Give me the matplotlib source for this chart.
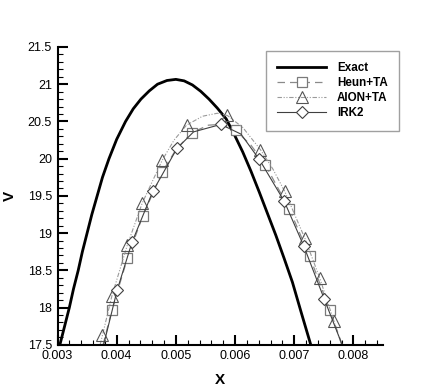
import matplotlib
matplotlib.use("Agg")
import matplotlib.pyplot as plt
from matplotlib.ticker import MultipleLocator, StrMethodFormatter

plt.rcParams['font.family'] = ['Liberation Sans', 'DejaVu Sans']

# Exact solution
exact_x = [0.00304, 0.00312, 0.00320, 0.00327, 0.00335, 0.00342, 0.00350, 0.00358,
           0.00367, 0.00376, 0.00387, 0.00400, 0.00415, 0.00428, 0.00441, 0.00455,
           0.00469, 0.00485, 0.00500, 0.00514, 0.00528, 0.00542, 0.00556, 0.00570,
           0.00585, 0.00599, 0.00613, 0.00627, 0.00641, 0.00655, 0.00669, 0.00683,
           0.00697, 0.00712, 0.00728]
exact_y = [17.50, 17.75, 18.00, 18.25, 18.50, 18.75, 19.00, 19.25,
           19.50, 19.75, 20.00, 20.26, 20.50, 20.67, 20.80, 20.91,
           21.00, 21.05, 21.065, 21.045, 20.99, 20.905, 20.80, 20.68,
           20.535, 20.32, 20.09, 19.83, 19.55, 19.26, 18.97, 18.66,
           18.34, 17.93, 17.50]

# Heun+TA
heun_x = [0.00377, 0.00392, 0.00418, 0.00444, 0.00477, 0.00500, 0.00527, 0.00555,
          0.00575, 0.00601, 0.00627, 0.00651, 0.00692, 0.00726, 0.00760, 0.00781]
heun_y = [17.50, 17.97, 18.66, 19.23, 19.82, 20.12, 20.35, 20.45,
          20.46, 20.38, 20.18, 19.92, 19.32, 18.69, 17.97, 17.50]
heun_marks = [1, 2, 3, 4, 6, 9, 11, 12, 13, 14]

# AION+TA
aion_x = [0.00372, 0.00376, 0.00392, 0.00418, 0.00443, 0.00477, 0.00497, 0.00518,
          0.00545, 0.00570, 0.00587, 0.00613, 0.00643, 0.00664, 0.00684, 0.00718,
          0.00743, 0.00767, 0.00780]
aion_y = [17.50, 17.63, 18.16, 18.84, 19.40, 19.98, 20.25, 20.45,
          20.57, 20.61, 20.58, 20.42, 20.12, 19.86, 19.56, 18.93,
          18.40, 17.82, 17.50]
aion_marks = [1, 2, 3, 4, 5, 7, 10, 12, 14, 15, 16, 17]

# IRK2
irk_x = [0.00378, 0.00401, 0.00426, 0.00461, 0.00502, 0.00530, 0.00576, 0.00610,
         0.00641, 0.00683, 0.00716, 0.00751, 0.00781]
irk_y = [17.50, 18.24, 18.88, 19.56, 20.14, 20.36, 20.46, 20.33,
         19.99, 19.43, 18.83, 18.11, 17.50]
irk_marks = [1, 2, 3, 4, 6, 8, 9, 10, 11]

fig = plt.figure(figsize=(4.36, 3.88), dpi=100)
ax = fig.add_axes([0.1319, 0.1113, 0.7465, 0.7676])

ax.plot(exact_x, exact_y, color='black', lw=2.0, label='Exact')
ax.plot(heun_x, heun_y, color='#8a8a8a', lw=0.9, ls=(0, (6, 4)),
        marker='s', markevery=heun_marks, ms=7.5, mfc='white', mec='#7a7a7a',
        mew=0.9, label='Heun+TA')
ax.plot(aion_x, aion_y, color='#9a9a9a', lw=0.8, ls=(0, (4, 1.5, 1, 1.5, 1, 1.5)),
        marker='^', markevery=aion_marks, ms=8, mfc='none', mec='#555555',
        mew=0.8, label='AION+TA')
ax.plot(irk_x, irk_y, color='#404040', lw=0.8, ls='-',
        marker='D', markevery=irk_marks, ms=6.5, mfc='white', mec='#404040',
        mew=0.8, label='IRK2')

ax.set_xlim(0.003, 0.0085)
ax.set_ylim(17.5, 21.5)
ax.xaxis.set_major_locator(MultipleLocator(0.001))
ax.xaxis.set_minor_locator(MultipleLocator(0.0002))
ax.yaxis.set_major_locator(MultipleLocator(0.5))
ax.yaxis.set_minor_locator(MultipleLocator(0.1))
ax.xaxis.set_major_formatter(StrMethodFormatter('{x:g}'))
ax.yaxis.set_major_formatter(StrMethodFormatter('{x:g}'))

for s in ['top', 'right']:
    ax.spines[s].set_visible(False)
for s in ['left', 'bottom']:
    ax.spines[s].set_linewidth(1.5)

ax.tick_params(which='major', direction='in', length=7, width=1.5, labelsize=9, pad=4)
ax.tick_params(which='minor', direction='in', length=3.5, width=0.8)

ax.set_xlabel('X', fontsize=11, fontweight='bold', labelpad=8)
ax.set_ylabel('V', fontsize=11, fontweight='bold', labelpad=8)

leg = fig.legend(loc='upper left', bbox_to_anchor=(265.7 / 436, 1 - 50.7 / 388),
                 borderaxespad=0, numpoints=1, handlelength=4.2, fancybox=False,
                 prop={'weight': 'bold', 'size': 8.4}, labelspacing=0.25,
                 borderpad=1.0, handletextpad=0.9)
leg.get_frame().set_edgecolor('#888888')
leg.get_frame().set_linewidth(1.0)

fig.savefig('out.png', dpi=100)
